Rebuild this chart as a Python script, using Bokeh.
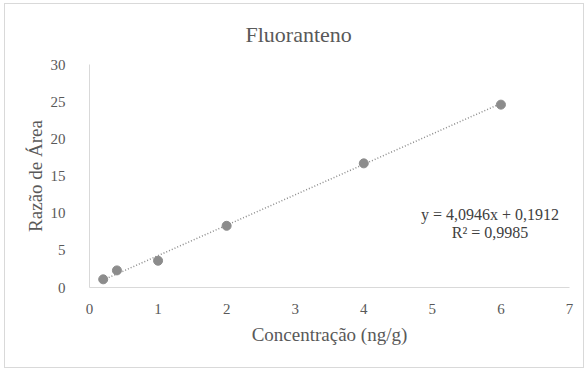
from bokeh.plotting import figure
from bokeh.models import Range1d, FixedTicker, Label, Title
from bokeh.embed import file_html
from bokeh.resources import INLINE

conc = [0.2, 0.4, 1, 2, 4, 6]
ratio = [1.1, 2.3, 3.6, 8.3, 16.7, 24.6]
slope = 4.0946
intercept = 0.1912
r2 = 0.9985
x_ticks = [0, 1, 2, 3, 4, 5, 6, 7]
y_ticks = [0, 5, 10, 15, 20, 25, 30]
title_text = "Fluoranteno"

FONT = "Times New Roman, Liberation Serif, serif"
GREY_TXT = "#595959"

W, H = 580, 365
p = figure(width=W, height=H, output_backend="svg", toolbar_location=None,
           x_range=Range1d(0, 7), y_range=Range1d(0, 30),
           min_border_left=84, min_border_right=16, min_border_top=60, min_border_bottom=82)
p.styles = {"border": "1px solid #d9d9d9", "margin-left": "4px", "margin-top": "3px"}

# spacer between title and plot frame
p.add_layout(Title(text=" ", text_font_size="10px", standoff=0), "above")

p.title.text = title_text
p.title.align = "left"
p.title.offset = 156
p.title.text_font = FONT
p.title.text_font_style = "normal"
p.title.text_font_size = "22px"
p.title.text_color = GREY_TXT

p.outline_line_color = None
p.xgrid.visible = False
p.ygrid.visible = False

for ax in (p.xaxis[0], p.yaxis[0]):
    ax.axis_line_color = "#d9d9d9"
    ax.major_tick_line_color = None
    ax.minor_tick_line_color = None
    ax.major_label_text_font = FONT
    ax.major_label_text_font_size = "15px"
    ax.major_label_text_color = GREY_TXT
    ax.axis_label_text_font = FONT
    ax.axis_label_text_font_size = "19px"
    ax.axis_label_text_font_style = "normal"
    ax.axis_label_text_color = GREY_TXT

p.xaxis.ticker = FixedTicker(ticks=x_ticks)
p.yaxis.ticker = FixedTicker(ticks=y_ticks)
p.xaxis.axis_label = "Concentração (ng/g)"
p.yaxis.axis_label = "Razão de Área"
p.xaxis.major_label_standoff = 10
p.yaxis.major_label_standoff = 18
p.xaxis.axis_label_standoff = 7
p.yaxis.axis_label_standoff = 2

# trendline from fitted coefficients
tx = [min(conc), max(conc)]
ty = [slope * v + intercept for v in tx]
p.line(tx, ty, line_color="#8c8c8c", line_width=1.5, line_dash="1 2")

p.scatter(conc, ratio, size=9, fill_color="#8c8c8c", line_color="#8c8c8c")

eq1 = "y = " + f"{slope:.4f}".replace(".", ",") + "x + " + f"{intercept:.4f}".replace(".", ",")
eq2 = "R² = " + f"{r2:.4f}".replace(".", ",")
p.add_layout(Label(x=5.84, y=9.8, text=eq1, text_align="center", text_baseline="middle",
                   text_font=FONT, text_font_size="16px", text_color="#404040"))
p.add_layout(Label(x=5.84, y=7.4, text=eq2, text_align="center", text_baseline="middle",
                   text_font=FONT, text_font_size="16px", text_color="#404040"))

open("out.html", "w").write(file_html(p, INLINE))
